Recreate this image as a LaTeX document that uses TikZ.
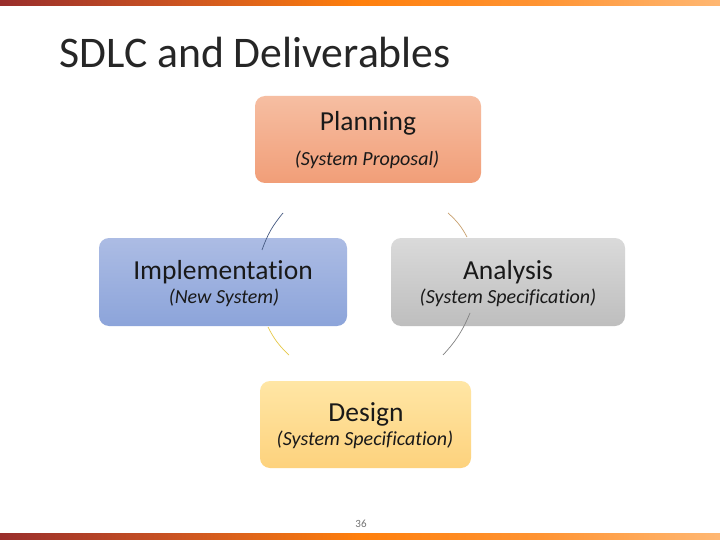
\documentclass[tikz,border=0pt]{standalone}
\usepackage{fontspec}
\setmainfont{Carlito}[Ligatures=NoCommon]
\definecolor{planT}{RGB}{246,190,162}
\definecolor{planB}{RGB}{241,158,120}
\definecolor{implT}{RGB}{172,188,228}
\definecolor{implB}{RGB}{140,164,218}
\definecolor{anaT}{RGB}{218,218,218}
\definecolor{anaB}{RGB}{190,190,190}
\definecolor{desT}{RGB}{255,230,165}
\definecolor{desB}{RGB}{253,210,125}
\pgfdeclarehorizontalshading{barshade}{100bp}{
  rgb(0bp)=(0.60,0.18,0.17);
  rgb(25bp)=(0.60,0.18,0.17);
  rgb(37.5bp)=(0.80,0.33,0.13);
  rgb(50bp)=(1.0,0.50,0.05);
  rgb(62.5bp)=(1.0,0.58,0.20);
  rgb(75bp)=(1.0,0.72,0.45);
  rgb(100bp)=(1.0,0.72,0.45)}
\tikzset{
  phasebox/.style={rounded corners=10pt, draw=none, inner sep=0pt},
  maintxt/.style={font=\fontsize{27.5}{30}\selectfont, text=black!90, inner sep=0pt},
  subtxt/.style={font=\fontsize{20}{22}\selectfont\itshape, text=black!90, inner sep=0pt},
  arcline/.style={line width=0.7pt, bend left=10}
}
\begin{document}
\begin{tikzpicture}[x=1pt,y=-1pt]
\useasboundingbox (0,0) rectangle (720,540);
\fill[white] (0,0) rectangle (720,540);
% bars
\shade[shading=barshade] (0,0) rectangle (720,6);
\shade[shading=barshade] (0,533) rectangle (720,540);
% title
\node[anchor=base west, inner sep=0pt, font=\fontsize{43.7}{46}\selectfont, text=black!85] (title) at (59,68) {SDLC and Deliverables};
% boxes
\shade[phasebox, top color=planT, bottom color=planB] (255,96) rectangle (481,183);
\coordinate (plan) at (368,139.5);
\shade[phasebox, top color=implT, bottom color=implB] (99,238) rectangle (347,326);
\coordinate (impl) at (223,282);
\shade[phasebox, top color=anaT, bottom color=anaB] (391,238) rectangle (625,326);
\coordinate (ana) at (508,282);
\shade[phasebox, top color=desT, bottom color=desB] (260,381) rectangle (471,468);
\coordinate (des) at (365.5,424.5);
% texts
\node[maintxt, anchor=base] (planA) at (368,131) {Planning};
\node[subtxt, anchor=base] (planB) at (367,166) {(System Proposal)};
\node[maintxt, anchor=base] (implA) at (223,279) {Implementation};
\node[subtxt, anchor=base] (implB) at (224,303) {(New System)};
\node[maintxt, anchor=base] (anaA) at (508,279) {Analysis};
\node[subtxt, anchor=base] (anaB) at (508,303) {(System Specification)};
\node[maintxt, anchor=base] (desA) at (366,421) {Design};
\node[subtxt, anchor=base] (desB) at (365,445) {(System Specification)};
% arcs
\coordinate (a1) at (448,213); \coordinate (a2) at (467,237);
\coordinate (b1) at (470,313); \coordinate (b2) at (443,355);
\coordinate (c1) at (289,355); \coordinate (c2) at (268,327);
\coordinate (d1) at (262,250); \coordinate (d2) at (283,213);
\draw[arcline, draw={rgb,255:red,200;green,160;blue,110}] (a1) to (a2);
\draw[arcline, draw={rgb,255:red,130;green,130;blue,130}] (b1) to (b2);
\draw[arcline, draw={rgb,255:red,230;green,200;blue,70}] (c1) to (c2);
\draw[arcline, draw={rgb,255:red,70;green,90;blue,130}] (d1) to (d2);
% page number
\node[anchor=base, inner sep=0pt, font=\fontsize{11}{12}\selectfont, text=black!55] (pg) at (361,527) {36};
\end{tikzpicture}
\end{document}
